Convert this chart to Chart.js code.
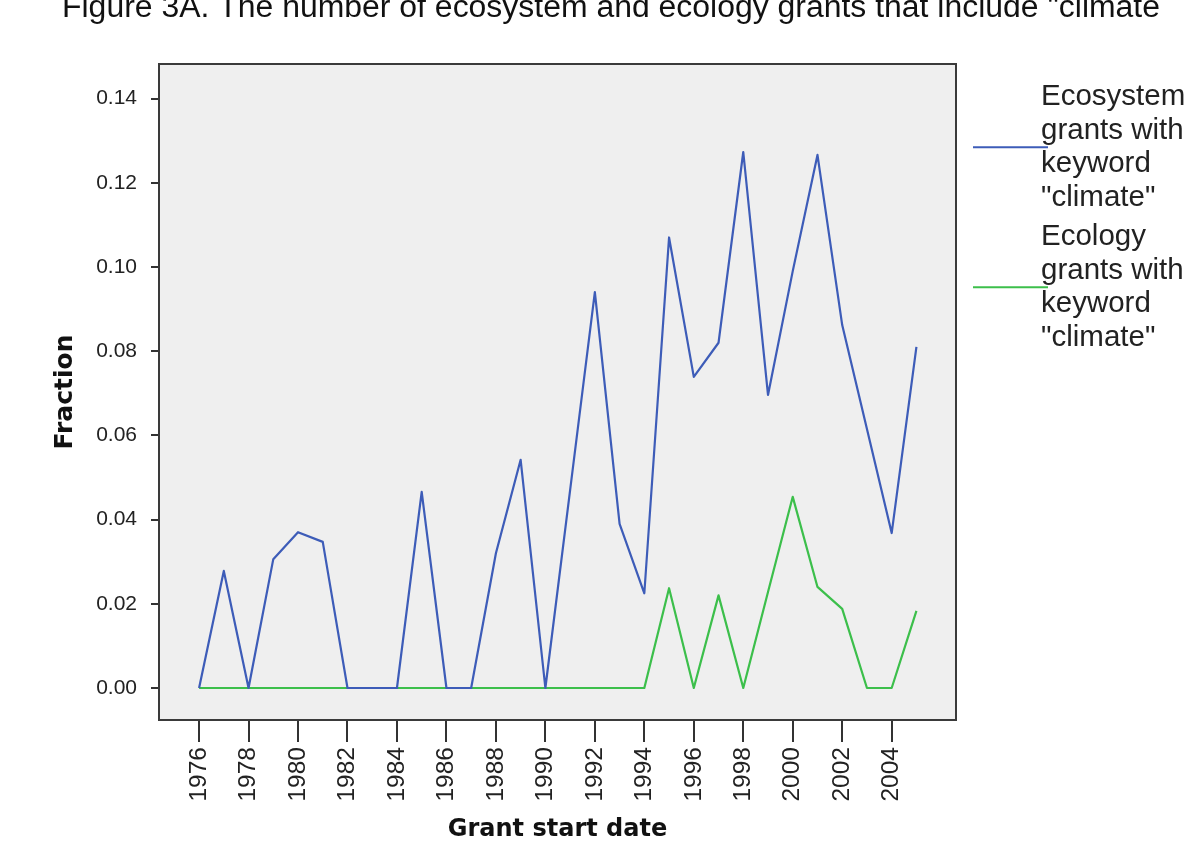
<!DOCTYPE html>
<html>
<head>
<meta charset="utf-8">
<title>Figure 3A - climate grants</title>
<script src="https://cdn.jsdelivr.net/npm/chart.js@4.4.1/dist/chart.umd.min.js"></script>
<style>
  html, body { margin: 0; padding: 0; background: #fff; }
  #wrap { width: 1199px; height: 864px; }
</style>
</head>
<body>
<div id="wrap"><canvas id="grantChart" width="1199" height="864"></canvas></div>
<script>
// data
const years = [1976, 1977, 1978, 1979, 1980, 1981, 1982, 1983, 1984, 1985,
  1986, 1987, 1988, 1989, 1990, 1991, 1992, 1993, 1994, 1995,
  1996, 1997, 1998, 1999, 2000, 2001, 2002, 2003, 2004, 2005];
const ecosystemFraction = [0, 0.0278, 0, 0.0306, 0.037, 0.0347, 0, 0, 0, 0.0466,
  0, 0, 0.032, 0.0542, 0, 0.047, 0.094, 0.039, 0.0225, 0.107,
  0.0739, 0.082, 0.1273, 0.0696, 0.099, 0.1266, 0.0862, 0.0615, 0.0368, 0.081];
const ecologyFraction = [0, 0, 0, 0, 0, 0, 0, 0, 0, 0,
  0, 0, 0, 0, 0, 0, 0, 0, 0, 0.0237,
  0, 0.022, 0, 0.0228, 0.0454, 0.024, 0.0188, 0, 0, 0.0183];
const yTicks = [0, 0.02, 0.04, 0.06, 0.08, 0.10, 0.12, 0.14];
const xTicks = [1976, 1978, 1980, 1982, 1984, 1986, 1988, 1990,
  1992, 1994, 1996, 1998, 2000, 2002, 2004];
const ecosystemLegend = ['Ecosystem', 'grants with', 'keyword', '"climate"'];
const ecologyLegend = ['Ecology', 'grants with', 'keyword', '"climate"'];
const figureTitle = 'Figure 3A. The number of ecosystem and ecology grants that include "climate';

const toPoints = vals => vals.map((v, i) => ({ x: years[i], y: v }));

// gray plot panel + frame
const plotFrame = {
  id: 'plotFrame',
  beforeDatasetsDraw(chart) {
    const { ctx, chartArea: a } = chart;
    ctx.save();
    ctx.fillStyle = '#efefef';
    ctx.fillRect(a.left, a.top, a.right - a.left, a.bottom - a.top);
    ctx.restore();
  },
  afterDatasetsDraw(chart) {
    const { ctx, chartArea: a } = chart;
    ctx.save();
    ctx.strokeStyle = '#3a3a3a';
    ctx.lineWidth = 2;
    ctx.strokeRect(a.left, a.top, a.right - a.left, a.bottom - a.top);
    ctx.restore();
  }
};

// title sits half cut off at the top edge, narrow and tall
const topTitle = {
  id: 'topTitle',
  afterDraw(chart) {
    const ctx = chart.ctx;
    ctx.save();
    ctx.font = '31px "Liberation Sans", Arial, sans-serif';
    ctx.fillStyle = '#111';
    ctx.textBaseline = 'alphabetic';
    const w = ctx.measureText(figureTitle).width;
    ctx.translate(62, 17);
    ctx.scale(1098 / w, 1);
    ctx.fillText(figureTitle, 0, 0);
    ctx.restore();
  }
};

// legend to the right, line crosses the start of the wrapped text
const sideLegend = {
  id: 'sideLegend',
  afterDraw(chart) {
    const ctx = chart.ctx;
    const blocks = [ecosystemLegend, ecologyLegend];
    const firstLine = [97, 237];
    const lh = 33.5;
    ctx.save();
    ctx.font = '29.5px "Liberation Sans", Arial, sans-serif';
    ctx.textBaseline = 'middle';
    blocks.forEach((lines, i) => {
      const ds = chart.data.datasets[i];
      ctx.fillStyle = '#222';
      lines.forEach((t, j) => ctx.fillText(t, 1041, firstLine[i] + j * lh));
      const midY = firstLine[i] + (lines.length - 1) * lh / 2;
      ctx.strokeStyle = ds.borderColor;
      ctx.lineWidth = 2;
      ctx.beginPath();
      ctx.moveTo(973, midY);
      ctx.lineTo(1048, midY);
      ctx.stroke();
    });
    ctx.restore();
  }
};

new Chart(document.getElementById('grantChart'), {
  type: 'line',
  data: {
    datasets: [
      {
        label: ecosystemLegend.join(' '),
        data: toPoints(ecosystemFraction),
        borderColor: '#3d5cb8',
        borderWidth: 2.2,
        borderJoinStyle: 'round',
        pointRadius: 0,
        tension: 0
      },
      {
        label: ecologyLegend.join(' '),
        data: toPoints(ecologyFraction),
        borderColor: '#3cbf4b',
        borderWidth: 2.2,
        borderJoinStyle: 'round',
        pointRadius: 0,
        tension: 0
      }
    ]
  },
  options: {
    responsive: false,
    animation: false,
    devicePixelRatio: 1,
    layout: { padding: { top: 64, right: 243, left: 0, bottom: 0 } },
    plugins: {
      legend: { display: false },
      tooltip: { enabled: false }
    },
    scales: {
      x: {
        type: 'linear',
        min: 1974.38,
        max: 2006.6,
        afterBuildTicks: s => { s.ticks = xTicks.map(v => ({ value: v })); },
        afterFit: s => { s.height = 144; },
        border: { display: false },
        grid: { drawOnChartArea: false, tickLength: 22, color: '#333', lineWidth: 2 },
        ticks: {
          minRotation: 90,
          maxRotation: 90,
          padding: 5,
          color: '#222',
          font: { family: '"Liberation Sans", Arial, sans-serif', size: 24.5 },
          callback: v => String(v)
        },
        title: {
          display: true,
          text: 'Grant start date',
          color: '#111',
          padding: { top: 0, bottom: 20 },
          font: { family: '"DejaVu Sans", Verdana, sans-serif', size: 24, weight: 'bold' }
        }
      },
      y: {
        min: -0.0076,
        max: 0.1482,
        afterBuildTicks: s => { s.ticks = yTicks.map(v => ({ value: v })); },
        afterFit: s => { s.width = 159; },
        border: { display: false },
        grid: { drawOnChartArea: false, tickLength: 8, color: '#333', lineWidth: 2 },
        ticks: {
          padding: 14,
          color: '#222',
          font: { family: '"Liberation Sans", Arial, sans-serif', size: 21 },
          callback: v => v.toFixed(2)
        },
        title: {
          display: true,
          text: 'Fraction',
          color: '#111',
          padding: { top: 50, bottom: 0 },
          font: { family: '"DejaVu Sans", Verdana, sans-serif', size: 25, weight: 'bold' }
        }
      }
    }
  },
  plugins: [plotFrame, topTitle, sideLegend]
});
</script>
</body>
</html>
